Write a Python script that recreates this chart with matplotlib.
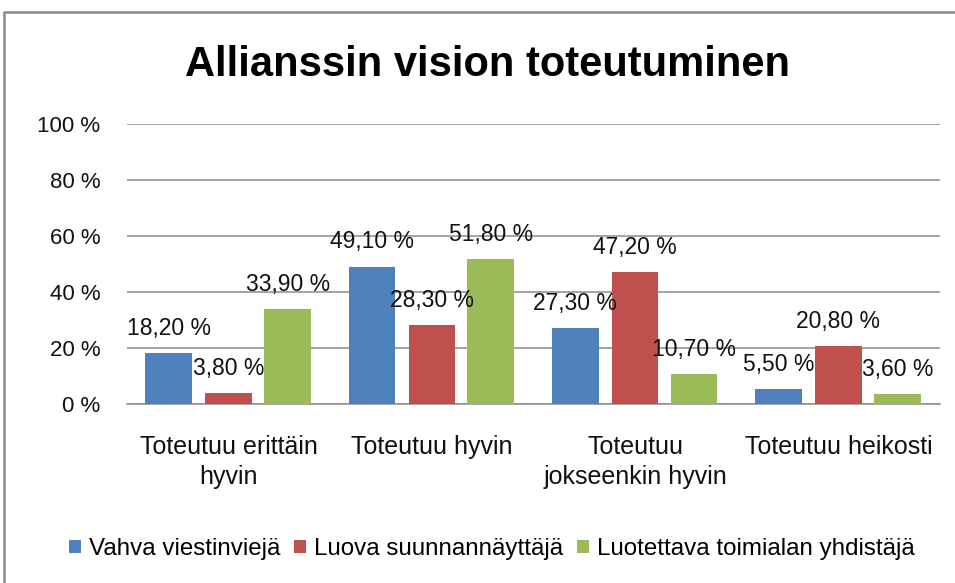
import matplotlib
matplotlib.use("Agg")
import matplotlib.pyplot as plt
import matplotlib.patches as mpatches
import numpy as np

plt.rcParams['font.family'] = ['Liberation Sans', 'DejaVu Sans']

categories = ["Toteutuu erittäin\nhyvin", "Toteutuu hyvin", "Toteutuu\njokseenkin hyvin", "Toteutuu heikosti"]
series_names = ["Vahva viestinviejä", "Luova suunnannäyttäjä", "Luotettava toimialan yhdistäjä"]
vahva = [18.2, 49.1, 27.3, 5.5]
luova = [3.8, 28.3, 47.2, 20.8]
luotettava = [33.9, 51.8, 10.7, 3.6]
y_ticks = [0, 20, 40, 60, 80, 100]
colors = ["#4F81BD", "#C0504D", "#9BBB59"]
title = "Allianssin vision toteutuminen"

fig = plt.figure(figsize=(9.55, 5.83), dpi=100)
ax = fig.add_axes([127/955, 1-404/583, (940-127)/955, (404-124)/583])

x = np.arange(len(categories))
width = 0.23
offsets = [-0.295, 0.0, 0.29]
handles = []
for vals, off, col, name in zip([vahva, luova, luotettava], offsets, colors, series_names):
    bars = ax.bar(x + off, vals, width, color=col, label=name, zorder=3)
    handles.append(bars)
    for b, v in zip(bars, vals):
        ax.annotate(f"{v:.2f}".replace(".", ",") + " %",
                    (b.get_x() + b.get_width()/2, b.get_height()),
                    xytext=(0, 13), textcoords="offset points",
                    ha="center", va="baseline", fontsize=16.5, color="#111111", zorder=4)

ax.set_xlim(-0.5, 3.5)
ax.set_ylim(0, 100)
ax.set_yticks(y_ticks)
ax.set_yticklabels([f"{t} %" for t in y_ticks])
ax.set_xticks(x)
ax.set_xticklabels(categories, linespacing=1.35)
ax.yaxis.grid(True, color="#8C8C8C", linewidth=1.1, zorder=0)
ax.set_axisbelow(True)
for s in ["left", "right", "top"]:
    ax.spines[s].set_visible(False)
ax.spines["bottom"].set_color("#8C8C8C")
ax.spines["bottom"].set_linewidth(1.1)
ax.tick_params(axis="y", length=0, pad=19, labelsize=16, labelcolor="#111111")
ax.tick_params(axis="x", length=0, pad=22, labelsize=18, labelcolor="#111111")

fig.text(487/955, 1-65/583, title, ha="center", va="center", fontsize=30, fontweight="bold")

fig.legend(handles=handles, labels=series_names, loc="center", bbox_to_anchor=(0.515, 1-549/583),
           ncol=3, frameon=False, fontsize=17.4, handlelength=0.5, handleheight=0.5,
           handletextpad=0.3, columnspacing=0.6)

border = mpatches.Rectangle((4/955, -0.2), 1.2, 1 - 12/583 + 0.2, transform=fig.transFigure,
                            fill=False, edgecolor="#8A8A8A", linewidth=1.8, clip_on=False)
fig.patches.append(border)

fig.savefig("out.png", dpi=100)
